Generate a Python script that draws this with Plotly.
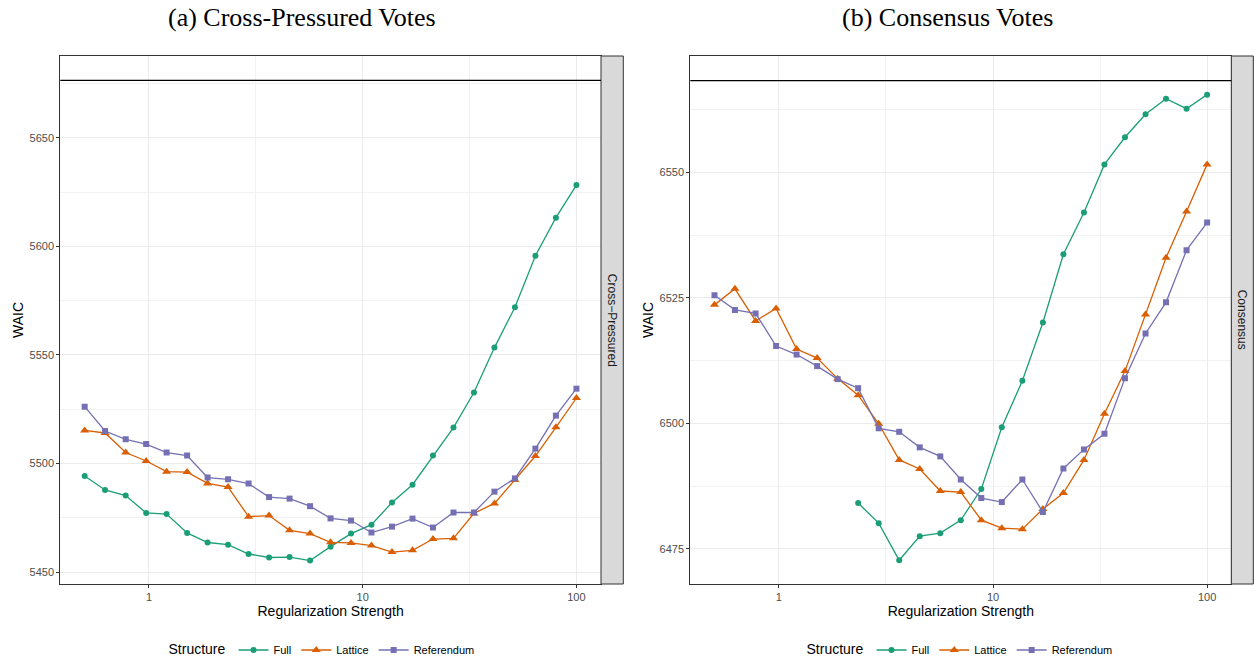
import plotly.graph_objects as go

# ---------------- data ----------------
reg_strength = [0.5, 0.623, 0.778, 0.970, 1.209, 1.508, 1.880, 2.344, 2.924, 3.646,
                4.547, 5.670, 7.071, 8.817, 10.99, 13.71, 17.10, 21.32, 26.59, 33.15,
                41.34, 51.56, 64.29, 80.17, 100.0]

cp_full = [5494.3, 5487.9, 5485.3, 5477.3, 5476.8, 5468.1, 5463.7, 5462.7, 5458.4, 5456.8,
           5457.0, 5455.4, 5461.8, 5467.8, 5471.9, 5482.1, 5490.3, 5503.7, 5516.6, 5532.7,
           5553.4, 5572.0, 5595.7, 5613.2, 5628.2]
cp_lattice = [5515.3, 5514.1, 5505.1, 5501.2, 5496.3, 5496.1, 5490.9, 5489.2, 5475.6, 5476.1,
              5469.3, 5467.8, 5463.8, 5463.5, 5462.3, 5459.3, 5460.1, 5465.3, 5465.6, 5477.1,
              5481.7, 5492.5, 5503.5, 5516.7, 5530.2]
cp_referendum = [5526.2, 5515.0, 5511.2, 5509.0, 5505.1, 5503.7, 5493.6, 5492.8, 5490.8, 5484.6,
                 5483.9, 5480.4, 5474.8, 5473.8, 5468.3, 5471.0, 5474.7, 5470.6, 5477.5, 5477.5,
                 5487.1, 5493.2, 5506.9, 5522.1, 5534.5]

cs_full = [None, None, None, None, None, None, None, 6484.1, 6480.1, 6472.7,
           6477.5, 6478.1, 6480.7, 6486.9, 6499.2, 6508.5, 6520.1, 6533.7, 6542.0, 6551.6,
           6557.0, 6561.6, 6564.7, 6562.7, 6565.5]
cs_lattice = [6523.6, 6526.8, 6520.4, 6522.9, 6514.8, 6513.0, 6508.9, 6505.6, 6499.9, 6492.7,
              6490.9, 6486.5, 6486.3, 6480.7, 6479.1, 6478.9, 6482.9, 6486.1, 6492.7, 6501.9,
              6510.4, 6521.7, 6533.0, 6542.2, 6551.6]
cs_referendum = [6525.5, 6522.6, 6521.9, 6515.4, 6513.7, 6511.4, 6508.8, 6507.0, 6499.0, 6498.3,
                 6495.2, 6493.4, 6488.8, 6485.1, 6484.3, 6488.8, 6482.3, 6491.0, 6494.8, 6497.9,
                 6509.0, 6517.9, 6524.1, 6534.5, 6540.0]

cp_baseline = 5676.4
cs_baseline = 6568.3

structures = ["Full", "Lattice", "Referendum"]
panel_titles = ["(a) Cross-Pressured Votes", "(b) Consensus Votes"]
strip_labels = ["Cross\u2212Pressured", "Consensus"]
x_tick_vals = [1, 10, 100]
x_tick_text = ["1", "10", "100"]

# ---------------- style ----------------
colors = {"Full": "#1B9E77", "Lattice": "#D95F02", "Referendum": "#7570B3"}
symbols = {"Full": "circle", "Lattice": "triangle-up", "Referendum": "square"}
msize = {"Full": 6, "Lattice": 8, "Referendum": 6}
W, H = 1254, 660
SANS = "Liberation Sans, Arial, sans-serif"
SERIF = "Liberation Serif, DejaVu Serif, serif"

fig = go.Figure()

panels = [
    dict(data=[cp_full, cp_lattice, cp_referendum], xa="x", ya="y", legend="legend"),
    dict(data=[cs_full, cs_lattice, cs_referendum], xa="x2", ya="y2", legend="legend2"),
]

for p in panels:
    for name, ys in zip(structures, p["data"]):
        fig.add_trace(go.Scatter(
            x=reg_strength, y=ys, name=name, mode="lines+markers",
            xaxis=p["xa"], yaxis=p["ya"], legend=p["legend"],
            line=dict(color=colors[name], width=1.3),
            marker=dict(symbol=symbols[name], size=msize[name], color=colors[name]),
            connectgaps=False,
        ))

# pixel geometry
px_left = [60.3, 690.3]
px_right = [601.0, 1231.3]
strip_right = [623.3, 1253.3]
py_top, py_bottom = 56.0, 584.0
ydom = [1 - py_bottom / H, 1 - py_top / H]

axis_common = dict(
    showline=True, linecolor="#333333", linewidth=1, mirror=True,
    ticks="outside", ticklen=3, tickcolor="#333333", tickwidth=1,
    tickfont=dict(family=SANS, size=11, color="#4d4d4d"),
    showgrid=True, gridcolor="#ebebeb", gridwidth=1,
    zeroline=False, automargin=False,
    title_font=dict(family=SANS, size=14, color="#000000"),
)

layout = dict(
    width=W, height=H,
    margin=dict(l=0, r=0, t=0, b=0, autoexpand=False),
    paper_bgcolor="white", plot_bgcolor="white",
    font=dict(family=SANS, color="#000000"),
)

xranges = [[-0.415, 2.115], [-0.414, 2.113]]
yranges = [[5444.6, 5687.6], [6467.97, 6573.2]]
ydticks = [50, 25]
yticks = [[5450, 5500, 5550, 5600, 5650], [6475, 6500, 6525, 6550]]

for i in range(2):
    sfx = "" if i == 0 else "2"
    layout["xaxis" + sfx] = dict(
        axis_common,
        type="log", range=xranges[i],
        domain=[px_left[i] / W, px_right[i] / W],
        anchor="y" + sfx,
        tickmode="array", tickvals=x_tick_vals, ticktext=x_tick_text,
        minor=dict(tickmode="array", tickvals=[3.1623, 31.623], showgrid=True,
                   gridcolor="#f2f2f2", gridwidth=0.6, ticks=""),
        title=dict(text="Regularization Strength", standoff=3),
    )
    layout["yaxis" + sfx] = dict(
        axis_common,
        range=yranges[i], domain=ydom,
        anchor="x" + sfx,
        tickmode="array", tickvals=yticks[i],
        minor=dict(dtick=ydticks[i], tick0=yticks[i][0] + ydticks[i] / 2, showgrid=True,
                   gridcolor="#f2f2f2", gridwidth=0.6, ticks=""),
        title=dict(text="WAIC", standoff=2),
    )

legend_common = dict(
    orientation="h", yanchor="middle", y=10 / H, xanchor="center",
    font=dict(family=SANS, size=11, color="#000000"),
    title=dict(text="Structure", side="left", font=dict(family=SANS, size=14)),
    bgcolor="rgba(0,0,0,0)", itemwidth=30, tracegroupgap=0,
)
layout["legend"] = dict(legend_common, x=323 / W)
layout["legend2"] = dict(legend_common, x=961 / W)

shapes = []
annotations = []
for i in range(2):
    # strip
    shapes.append(dict(type="rect", xref="paper", yref="paper",
                       x0=px_right[i] / W, x1=strip_right[i] / W,
                       y0=ydom[0], y1=ydom[1],
                       fillcolor="#d9d9d9", line=dict(color="#333333", width=1)))
    annotations.append(dict(xref="paper", yref="paper",
                            x=(px_right[i] + strip_right[i]) / 2 / W, y=(ydom[0] + ydom[1]) / 2,
                            text=strip_labels[i], showarrow=False, textangle=90,
                            font=dict(family=SANS, size=12, color="#1a1a1a"),
                            xanchor="center", yanchor="middle"))
    # panel title
    annotations.append(dict(xref="paper", yref="paper",
                            x=[302, 948][i] / W, y=1 - 17 / H,
                            text=panel_titles[i], showarrow=False,
                            font=dict(family=SERIF, size=26, color="#000000"),
                            xanchor="center", yanchor="middle"))

# baseline lines
shapes.append(dict(type="line", xref="x domain", yref="y", x0=0, x1=1,
                   y0=cp_baseline, y1=cp_baseline, line=dict(color="black", width=1.3)))
shapes.append(dict(type="line", xref="x2 domain", yref="y2", x0=0, x1=1,
                   y0=cs_baseline, y1=cs_baseline, line=dict(color="black", width=1.3)))

layout["shapes"] = shapes
layout["annotations"] = annotations
fig.update_layout(**layout)

fig.write_html("out.html")
